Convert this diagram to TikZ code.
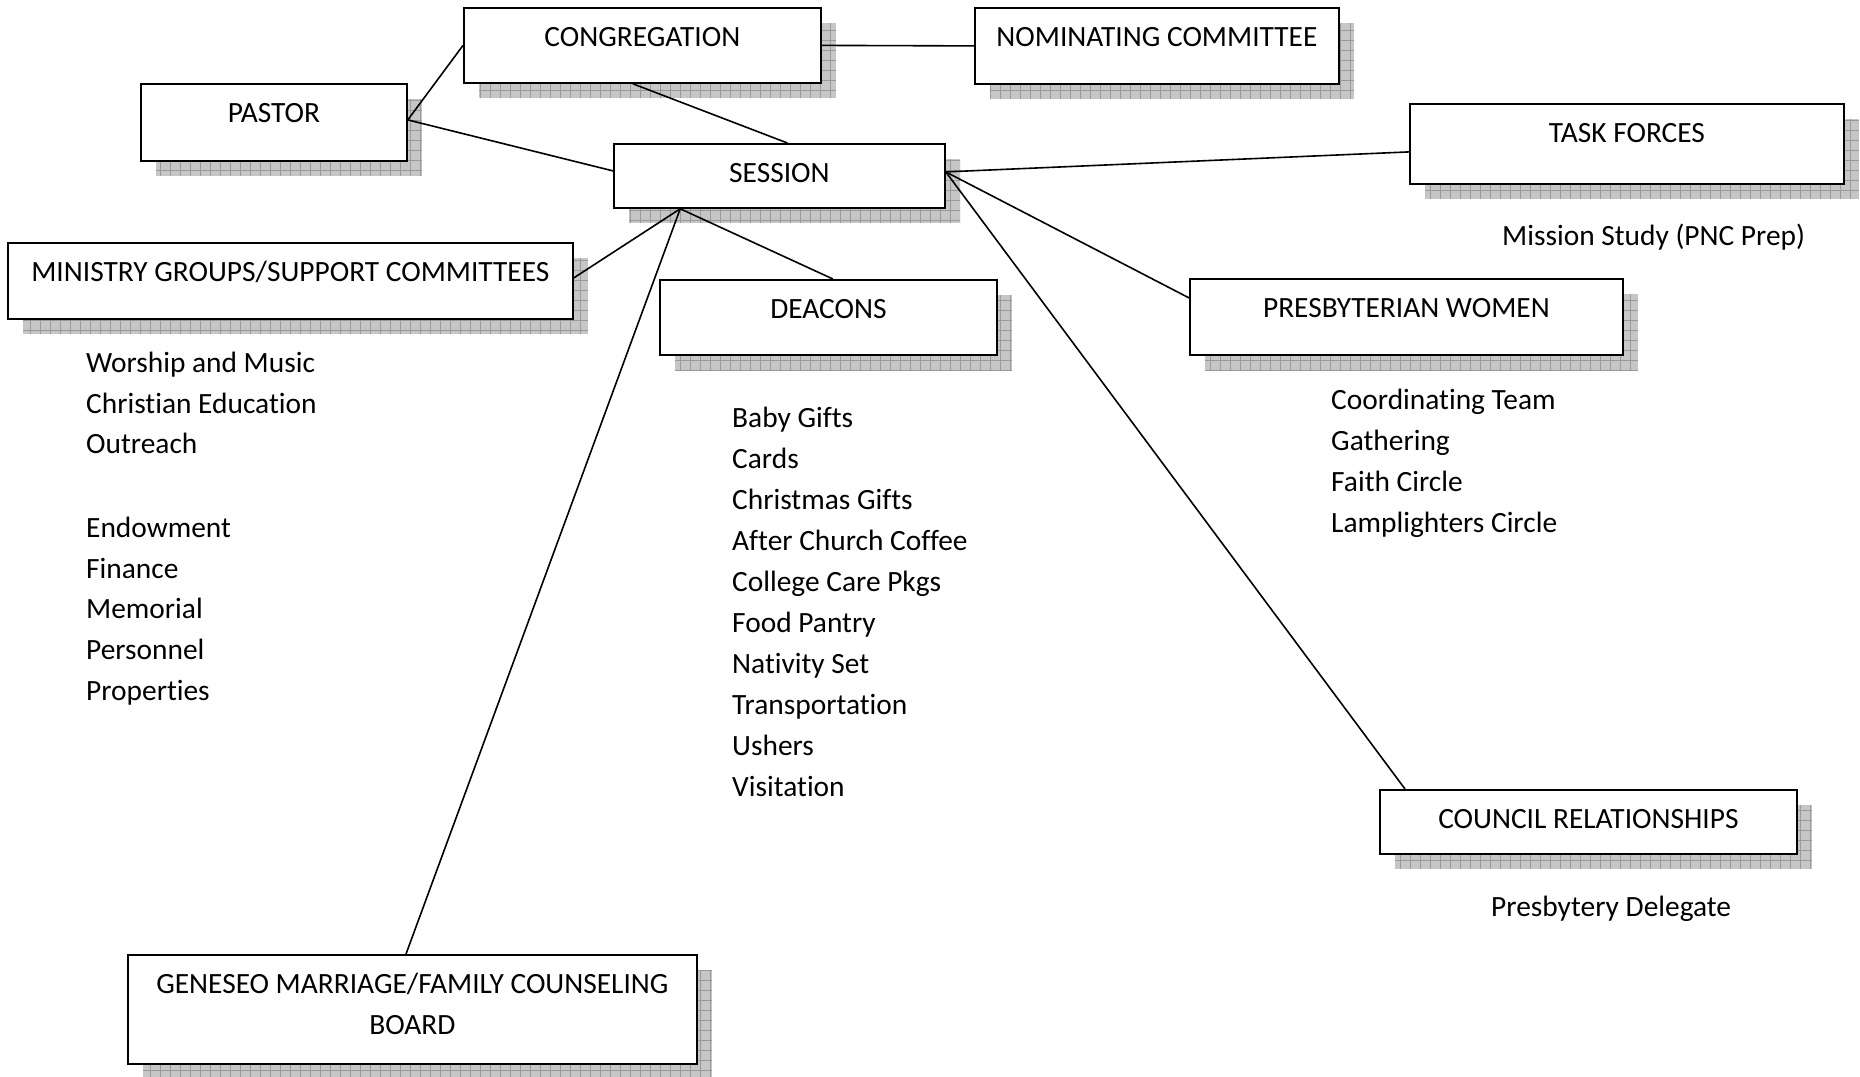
\documentclass[tikz,border=0pt]{standalone}
\usepackage{fontspec}
\setmainfont{Carlito}[Ligatures={NoCommon}]
\usetikzlibrary{calc}
\tikzset{
  boxst/.style={draw=black, line width=1.8pt, fill=white, inner sep=0pt, rectangle},
  shfill/.style={fill=gray!45},
  shgrid/.style={draw=gray!80, line width=0.7pt},
  lbl/.style={inner sep=0pt, anchor=base, font=\fontsize{29.4}{35}\selectfont},
  itm/.style={inner sep=0pt, anchor=base west, font=\fontsize{29.4}{35}\selectfont},
  conn/.style={draw=black, line width=1.6pt},
}
\newcommand\shbox[5]{%
  \fill[shfill] (#2+16,#3+16) rectangle (#4+16,#5+16);
  \begin{scope}
    \clip (#2+16,#3+16) rectangle (#4+16,#5+16);
    \draw[shgrid, step=10pt] (#2+16,#5+16) grid (#4+16,#3+16);
  \end{scope}
  \node[boxst, anchor=north west, minimum width={#4-#2}, minimum height={#5-#3}] (#1) at (#2,#3) {};
}
\begin{document}
\begin{tikzpicture}[x=1pt,y=-1pt]
\useasboundingbox (0,0) rectangle (1860,1076);
\fill[white] (0,0) rectangle (1860,1076);

% boxes
\shbox{cong}{463}{7}{820}{82}
\shbox{nom}{974}{7}{1338}{83}
\shbox{pastor}{140}{83}{406}{160}
\shbox{task}{1409}{103}{1843}{183}
\shbox{ministry}{7}{242}{572}{318}
\shbox{deacons}{659}{279}{996}{354}
\shbox{pw}{1189}{278}{1622}{354}
\shbox{council}{1379}{789}{1796}{853}
\shbox{geneseo}{127}{954}{696}{1063}
\shbox{session}{613}{143}{944}{207}

% connectors
\coordinate (sb) at ($(session.south west)!0.202!(session.south east)$);
\coordinate (se) at ($(session.east)+(0,-4)$);
\coordinate (pe) at ($(pastor.east)+(0,-2.5)$);
\draw[conn] (pe) -- (cong.west);
\draw[conn] (pe) -- ($(session.west)+(0,-5)$);
\draw[conn] ($(cong.south)+(-9.5,0)$) -- ($(session.north)+(8,0)$);
\draw[conn] (cong.east) -- (nom.west);
\draw[conn] (se) -- ($(task.west)+(0,8)$);
\draw[conn] (se) -- ($(pw.west)+(0,-19)$);
\draw[conn] (se) -- ($(council.north west)+(26,0)$);
\draw[conn] (sb) -- ($(ministry.east)+(0,-3)$);
\draw[conn] (sb) -- ($(deacons.north)+(4.5,0)$);
\draw[conn] (sb) -- ($(geneseo.north west)+(279,0)$);

% box labels
\node[lbl] (congT) at ($(cong.north)+(0,39)$) {CONGREGATION};
\node[lbl] (nomT) at ($(nom.north)+(0,39)$) {NOMINATING COMMITTEE};
\node[lbl] (pastorT) at ($(pastor.north)+(0,39)$) {PASTOR};
\node[lbl] (sessionT) at ($(session.north)+(0,39)$) {SESSION};
\node[lbl] (taskT) at ($(task.north)+(0,39)$) {TASK FORCES};
\node[lbl] (ministryT) at ($(ministry.north)+(0,39)$) {MINISTRY GROUPS/SUPPORT COMMITTEES};
\node[lbl] (deaconsT) at ($(deacons.north)+(0,39)$) {DEACONS};
\node[lbl] (pwT) at ($(pw.north)+(0,39)$) {PRESBYTERIAN WOMEN};
\node[lbl] (councilT) at ($(council.north)+(0,39)$) {COUNCIL RELATIONSHIPS};
\node[lbl] (genT1) at ($(geneseo.north)+(0,39)$) {GENESEO MARRIAGE/FAMILY COUNSELING};
\node[lbl] (genT2) at ($(geneseo.north)+(0,80.5)$) {BOARD};

% free text
\node[itm] (mstudy) at (1502,245.5) {Mission Study (PNC Prep)};
\node[itm] (pdel) at (1491,916.5) {Presbytery Delegate};

\node[itm] (m1) at (86,372.5) {Worship and Music};
\node[itm] (m2) at (86,413) {Christian Education};
\node[itm] (m3) at (86,453.5) {Outreach};
\node[itm] (m4) at (86,537.5) {Endowment};
\node[itm] (m5) at (86,578) {Finance};
\node[itm] (m6) at (86,618.5) {Memorial};
\node[itm] (m7) at (86,659.5) {Personnel};
\node[itm] (m8) at (86,700) {Properties};

\node[itm] (d1) at (732,427.5) {Baby Gifts};
\node[itm] (d2) at (732,468.5) {Cards};
\node[itm] (d3) at (732,509.5) {Christmas Gifts};
\node[itm] (d4) at (732,550.5) {After Church Coffee};
\node[itm] (d5) at (732,591.5) {College Care Pkgs};
\node[itm] (d6) at (732,632.5) {Food Pantry};
\node[itm] (d7) at (732,673.5) {Nativity Set};
\node[itm] (d8) at (732,714.5) {Transportation};
\node[itm] (d9) at (732,755.5) {Ushers};
\node[itm] (d10) at (732,796.5) {Visitation};

\node[itm] (w1) at (1331,409.5) {Coordinating Team};
\node[itm] (w2) at (1331,450.5) {Gathering};
\node[itm] (w3) at (1331,491.5) {Faith Circle};
\node[itm] (w4) at (1331,532.5) {Lamplighters Circle};
\end{tikzpicture}
\end{document}
